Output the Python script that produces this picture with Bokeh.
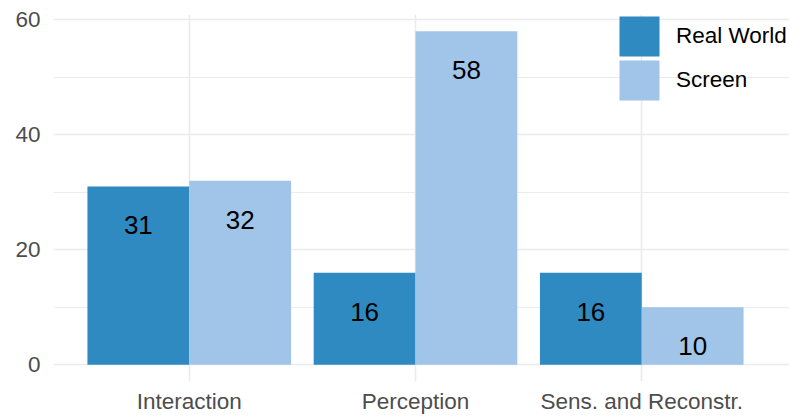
from bokeh.plotting import figure
from bokeh.models import (ColumnDataSource, Range1d, FixedTicker,
                          Legend, LegendItem)
from bokeh.transform import dodge
from bokeh.core.properties import value
from bokeh.embed import file_html
from bokeh.resources import INLINE

categories = ["Interaction", "Perception", "Sens. and Reconstr."]
series = ["Real World", "Screen"]
real_world = [31, 16, 16]
screen = [32, 58, 10]
colors = ["#2E8AC0", "#A0C5E8"]
y_ticks = [0, 20, 40, 60]
y_minor = [10, 30, 50]

FONT = "Liberation Sans"

xpos = [i + 1 for i in range(len(categories))]
src = ColumnDataSource(dict(
    x=xpos,
    cat=categories,
    rw=real_world,
    sc=screen,
    rw_txt=[str(v) for v in real_world],
    sc_txt=[str(v) for v in screen],
))

ymax = max(real_world + screen)
pad = ymax * 0.05

W, H = 789, 416
left, right_gap, top, bottom = 53, 12, 14, 35
frame_w = W - left - right_gap
x0, x1 = 0.4, len(categories) + 0.6
unit = frame_w / (x1 - x0)

p = figure(width=W, height=H, output_backend="svg", toolbar_location=None,
           x_range=Range1d(x0, x1 + right_gap / unit),
           y_range=Range1d(-pad, ymax + pad),
           min_border_left=left, min_border_right=0,
           min_border_top=top, min_border_bottom=bottom)
p.outline_line_color = None
p.background_fill_color = "white"
p.border_fill_color = "white"

w = 0.45
r1 = p.vbar(x=dodge("x", -w / 2), top="rw", width=w,
            source=src, fill_color=colors[0], line_color=None)
r2 = p.vbar(x=dodge("x", w / 2), top="sc", width=w,
            source=src, fill_color=colors[1], line_color=None)

for col, txt, off in [("rw", "rw_txt", -w / 2), ("sc", "sc_txt", w / 2)]:
    p.text(x=dodge("x", off), y=col, text=txt, source=src,
           text_align="center", text_baseline="middle", y_offset=39,
           text_font=value(FONT), text_font_size="26px", text_color="black")

# axes
for ax in (p.xaxis, p.yaxis):
    ax.axis_line_color = None
    ax.major_tick_line_color = None
    ax.minor_tick_line_color = None
    ax.major_tick_out = 0
    ax.major_tick_in = 0
    ax.minor_tick_out = 0
    ax.minor_tick_in = 0
    ax.major_label_text_font = FONT
    ax.major_label_text_font_size = "22.5px"
    ax.major_label_text_color = "#4D4D4D"

p.yaxis.ticker = FixedTicker(ticks=y_ticks, minor_ticks=y_minor)
p.yaxis.major_label_standoff = 13
p.xaxis.ticker = FixedTicker(ticks=xpos)
p.xaxis.major_label_overrides = {x: c for x, c in zip(xpos, categories)}
p.xaxis.major_label_standoff = 7

p.ygrid.grid_line_color = "#EBEBEB"
p.ygrid.grid_line_width = 1.6
p.ygrid.minor_grid_line_color = "#EBEBEB"
p.ygrid.minor_grid_line_width = 1.0
p.xgrid.grid_line_color = "#EBEBEB"
p.xgrid.grid_line_width = 1.6

# one legend per item so the keys can sit closer than Bokeh's spacing allows
for label, rend, loc in [(series[0], r1, (561, 320)), (series[1], r2, (561, 276))]:
    lg = Legend(items=[LegendItem(label=label, renderers=[rend])],
                location=loc, orientation="vertical",
                glyph_width=50, glyph_height=50, spacing=0, padding=0,
                margin=0, label_standoff=12,
                label_text_font=FONT, label_text_font_size="22.5px",
                label_text_color="black",
                background_fill_alpha=0, border_line_color=None)
    p.add_layout(lg)

open("out.html", "w").write(file_html(p, INLINE))
